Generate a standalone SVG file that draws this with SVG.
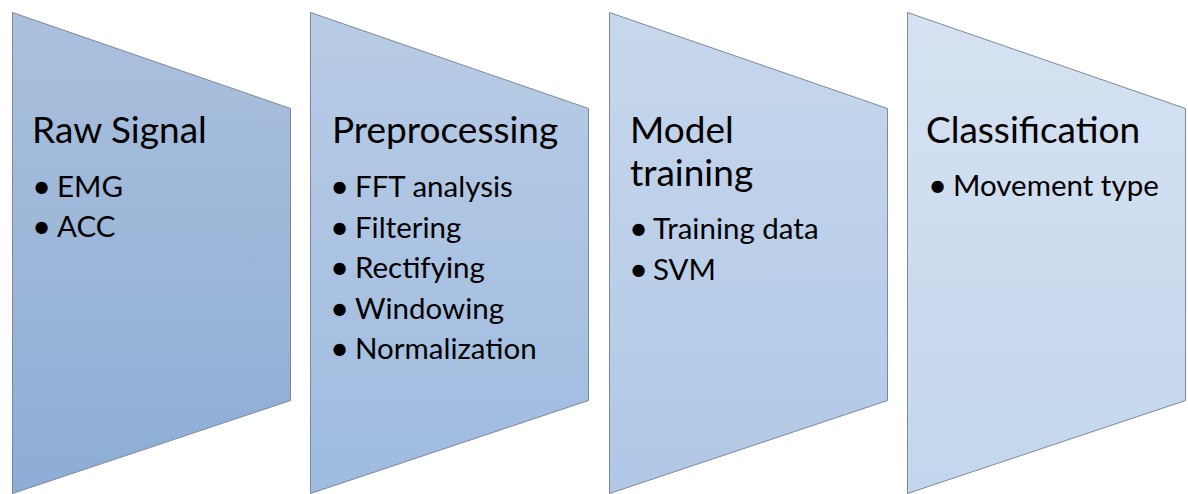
<svg xmlns="http://www.w3.org/2000/svg" width="1188" height="494" viewBox="0 0 1188 494">
<style>
.shape{stroke:#7d889a;stroke-width:1}
.title{font-family:Lato,"Liberation Sans",sans-serif;font-size:37px;fill:#000}
.item{font-family:Lato,"Liberation Sans",sans-serif;font-size:29.5px;fill:#000}
.dot{font-family:Lato,"Liberation Sans",sans-serif;font-size:33px;fill:#000}
</style>
<defs>
<linearGradient id="g1" x1="0" y1="0" x2="0" y2="1"><stop offset="0" stop-color="#abc0dd"/><stop offset="1" stop-color="#8dadd6"/></linearGradient>
<linearGradient id="g2" x1="0" y1="0" x2="0" y2="1"><stop offset="0" stop-color="#b9cce5"/><stop offset="1" stop-color="#9ebbe0"/></linearGradient>
<linearGradient id="g3" x1="0" y1="0" x2="0" y2="1"><stop offset="0" stop-color="#c7d7ec"/><stop offset="1" stop-color="#b0c8e6"/></linearGradient>
<linearGradient id="g4" x1="0" y1="0" x2="0" y2="1"><stop offset="0" stop-color="#d6e2f1"/><stop offset="1" stop-color="#c3d6ed"/></linearGradient>
</defs>
<g id="node-raw-signal">
<path class="shape" fill="url(#g1)" d="M12.5,12.5 L290.5,108.5 L290.5,400.5 L12.5,493.5 Z"/>
<text class="title" x="32" y="143">Raw Signal</text>
<text class="dot" x="32" y="198">•</text><text class="item" x="57" y="197">EMG</text>
<text class="dot" x="32" y="238">•</text><text class="item" x="57" y="237">ACC</text>
</g>
<g id="node-preprocessing">
<path class="shape" fill="url(#g2)" d="M310.5,12.5 L588.5,108.5 L588.5,400.5 L310.5,493.5 Z"/>
<text class="title" x="332" y="143">Preprocessing</text>
<text class="dot" x="330" y="198">•</text><text class="item" x="355" y="197">FFT analysis</text>
<text class="dot" x="330" y="238.5">•</text><text class="item" x="355" y="237.5">Filtering</text>
<text class="dot" x="330" y="279">•</text><text class="item" x="355" y="278">Rectifying</text>
<text class="dot" x="330" y="319.5">•</text><text class="item" x="355" y="318.5">Windowing</text>
<text class="dot" x="330" y="360">•</text><text class="item" x="355" y="359">Normalization</text>
</g>
<g id="node-model-training">
<path class="shape" fill="url(#g3)" d="M609.5,12.5 L887.5,108.5 L887.5,400.5 L609.5,493.5 Z"/>
<text class="title" x="630" y="143">Model</text>
<text class="title" x="630" y="186">training</text>
<text class="dot" x="629" y="240">•</text><text class="item" x="653" y="239">Training data</text>
<text class="dot" x="629" y="281">•</text><text class="item" x="653" y="280">SVM</text>
</g>
<g id="node-classification">
<path class="shape" fill="url(#g4)" d="M907.5,12.5 L1185.5,108.5 L1185.5,400.5 L907.5,493.5 Z"/>
<text class="title" x="926" y="143">Classification</text>
<text class="dot" x="928" y="197">•</text><text class="item" x="953" y="196">Movement type</text>
</g>
<g id="connectors"></g>
</svg>
